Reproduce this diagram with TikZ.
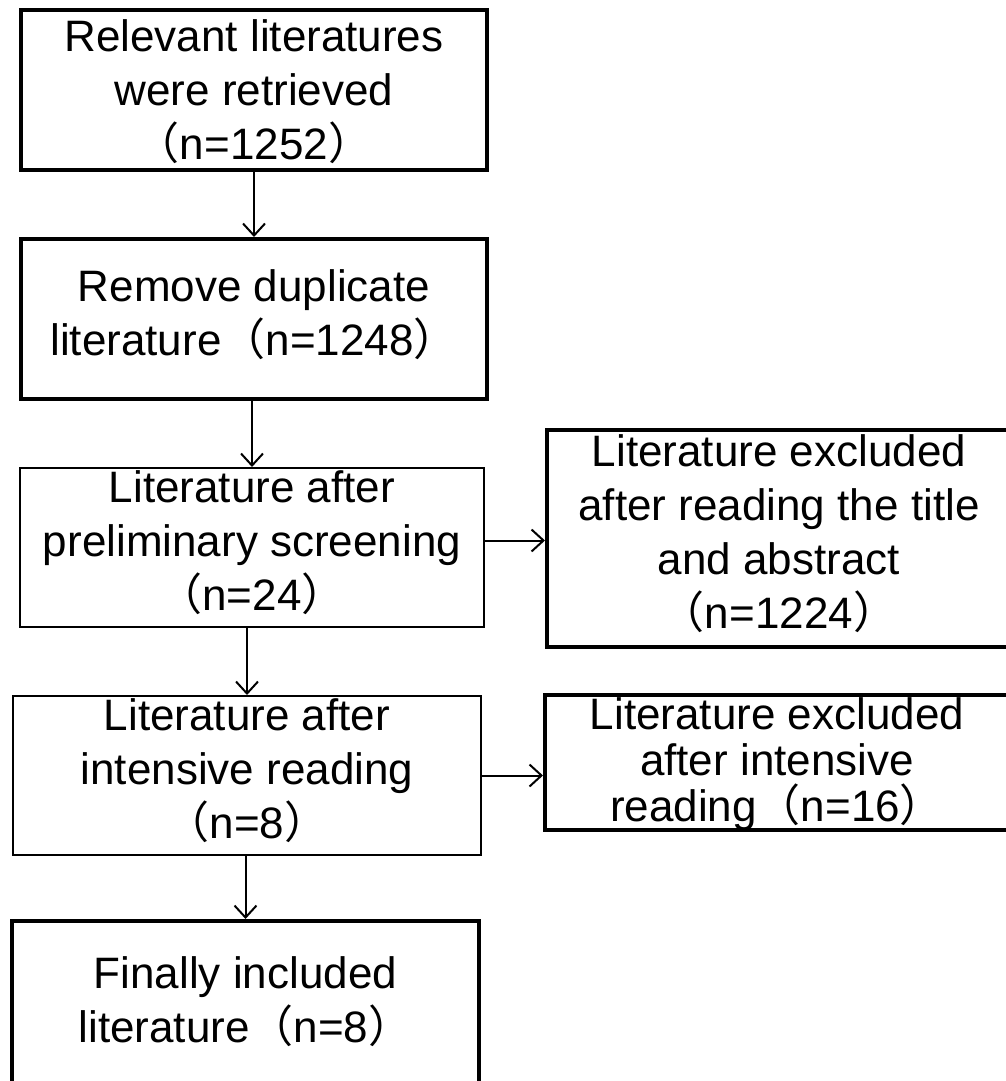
\documentclass[tikz,border=0pt]{standalone}
\usepackage{fontspec}
\setmainfont{Liberation Sans}
\newfontfamily\cjk{Noto Sans CJK SC}
\usetikzlibrary{arrows.meta}
\newcommand{\tstrut}{\rule[-13pt]{0pt}{51pt}}
\newcommand{\openp}{{\cjk （}}
\newcommand{\closep}{{\cjk ）}}
\tikzset{
  reg/.style={
    rectangle,
    minimum width=464pt,
    minimum height=160pt,
    inner sep=0pt,
    align=center,
    font=\fontsize{44}{54}\selectfont,
    execute at begin node=\tstrut,
    text depth=13pt,
    line width=4pt,
    draw=black
  },
  light/.style={
    reg,
    line width=2pt
  },
  arrow/.style={line width=2pt,-{Straight Barb[length=12pt,width=22pt]}}
}
\begin{document}
\begin{tikzpicture}[x=1pt,y=-1pt]
  \useasboundingbox (0,0) rectangle (1005,1081);
  \node (retr) [reg, minimum width=466pt, text depth=-6pt] at (254,90)
    {Relevant literatures\\were retrieved\\\openp n=1252\closep};
  \node (dupl) [reg, minimum width=466pt] at (254,319)
    {Remove duplicate\\literature\openp n=1248\closep};
  \node (prel) [light, minimum height=159pt] at (252,547.5)
    {Literature after\\preliminary screening\\\openp n=24\closep};
  \node (exa) [reg, minimum height=217pt] at (779,538.5)
    {Literature excluded\\after reading the title\\and abstract\\\openp n=1224\closep};
  \node (inte) [light, minimum width=468pt, minimum height=159pt] at (247,775.5)
    {Literature after\\intensive reading\\\openp n=8\closep};
  \node (exb) [reg, minimum height=135pt, text depth=5pt,
    font=\fontsize{44}{46}\selectfont] at (777,762.5)
    {Literature excluded\\after intensive\\reading\openp n=16\closep};
  \node (fin) [reg, minimum width=467pt, minimum height=170pt] at (245.5,1006)
    {Finally included\\literature\openp n=8\closep};
  % connectors
  \draw [arrow] (retr.south) -- (dupl.north);
  \draw [arrow] (dupl.south -| prel.north) -- (prel.north);
  \draw [arrow] ([yshift=7pt]prel.east) -- ([yshift=7pt]prel.east -| exa.west);
  \draw [arrow] (prel.south -| inte.north) -- (inte.north);
  \draw [arrow] (inte.east) -- (inte.east -| exb.west);
  \draw [arrow] (inte.south -| fin.north) -- (fin.north);
\end{tikzpicture}
\end{document}
